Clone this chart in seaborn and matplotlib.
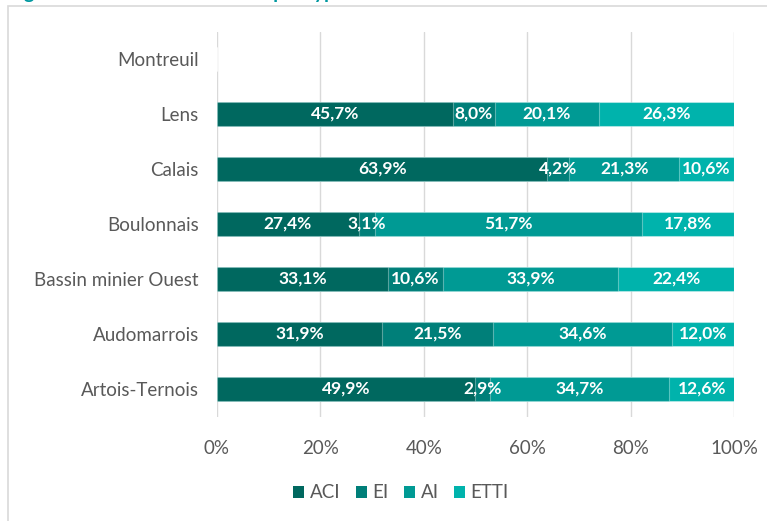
import matplotlib
matplotlib.use("Agg")
import matplotlib.pyplot as plt
import seaborn as sns
import numpy as np
import pandas as pd
from matplotlib.patches import Rectangle, Patch

categories = ["Montreuil", "Lens", "Calais", "Boulonnais",
              "Bassin minier Ouest", "Audomarrois", "Artois-Ternois"]
series = ["ACI", "EI", "AI", "ETTI"]
aci = [0.0, 45.7, 63.9, 27.4, 33.1, 31.9, 49.9]
ei = [0.0, 8.0, 4.2, 3.1, 10.6, 21.5, 2.9]
ai = [0.0, 20.1, 21.3, 51.7, 33.9, 34.6, 34.7]
etti = [0.0, 26.3, 10.6, 17.8, 22.4, 12.0, 12.6]
xticks = [0, 20, 40, 60, 80, 100]
xticklabels = ["0%", "20%", "40%", "60%", "80%", "100%"]
title = "Figure 8 : Salariés en insertion par type de structure"

colors = ["#00685F", "#007F79", "#009A94", "#00B3AC"]

sns.set_theme(style="white")
plt.rcParams["font.family"] = ["Lato", "DejaVu Sans"]

vals = np.array([aci, ei, ai, etti])
cum = np.cumsum(vals, axis=0)

fig = plt.figure(figsize=(7.67, 5.21), dpi=100)
ax = fig.add_axes([217/767, 1-416.5/521, (734-217)/767, (416.5-31.5)/521])

for i in reversed(range(4)):
    df = pd.DataFrame({"cat": categories, "val": cum[i]})
    sns.barplot(data=df, x="val", y="cat", orient="h", color=colors[i],
                saturation=1, width=0.44, ax=ax, order=categories,
                edgecolor=(1, 1, 1, 0.35), linewidth=0.8)

for j, cat in enumerate(categories):
    for i in range(4):
        v = vals[i, j]
        if v <= 0:
            continue
        xc = cum[i, j] - v / 2
        ax.text(xc, j, f"{v:.1f}%".replace(".", ","), ha="center", va="center",
                color="white", fontsize=12.5, fontweight="bold")

ax.set_xlim(0, 100)
ax.set_ylim(len(categories) - 0.5, -0.5)
ax.set_xticks(xticks)
ax.set_xticklabels(xticklabels)
ax.set_xlabel("")
ax.set_ylabel("")
ax.grid(axis="x", color="#D9D9D9", linewidth=1)
ax.set_axisbelow(True)
for s in ax.spines.values():
    s.set_visible(False)
ax.tick_params(axis="x", length=0, pad=17, labelsize=13.5, labelcolor="#595959")
ax.tick_params(axis="y", length=0, pad=13, labelsize=13.5, labelcolor="#595959")

handles = [Patch(facecolor=c, edgecolor="none") for c in colors]
fig.legend(handles, series, loc="center", bbox_to_anchor=(401/767, 1-493/521),
           ncol=4, frameon=False, fontsize=13.5, handlelength=0.6, handleheight=0.6,
           handletextpad=0.3, columnspacing=0.8, labelcolor="#595959")

fig.patches.append(Rectangle((8/767, -0.1), 1.0, 1 - 6/521 + 0.1,
                             transform=fig.transFigure, fill=False,
                             edgecolor="#D9D9D9", linewidth=1.2))
fig.text(8/767, 1 + 1/521, title, ha="left", va="baseline", fontsize=14,
         fontweight="bold", color="#0098A0")

fig.savefig("out.png", dpi=100)
